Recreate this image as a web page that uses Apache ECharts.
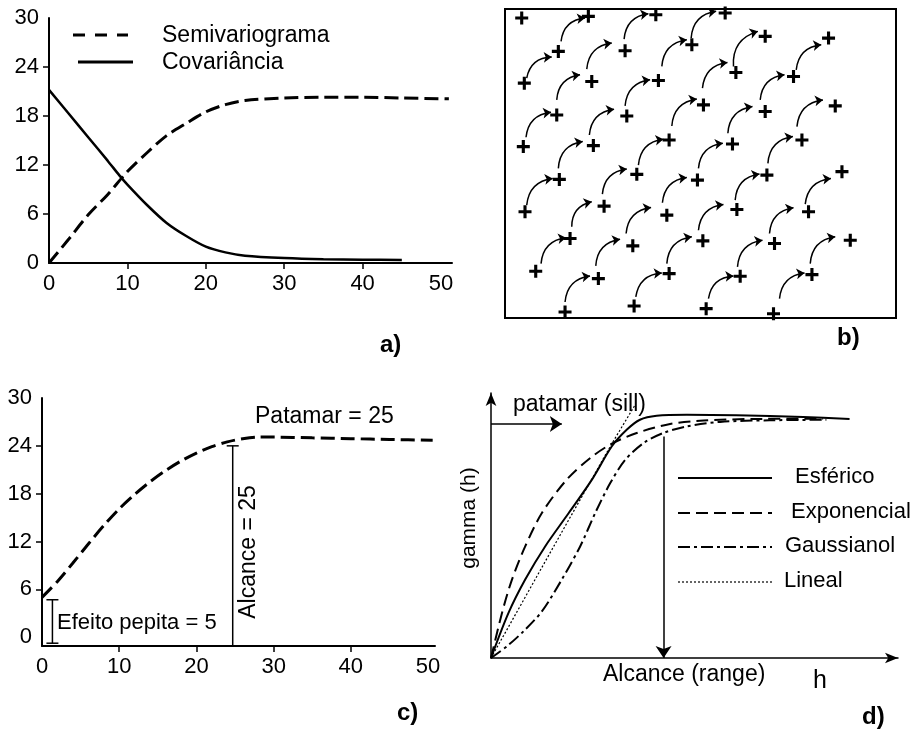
<!DOCTYPE html>
<html>
<head>
<meta charset="utf-8">
<script src="https://cdn.jsdelivr.net/npm/echarts@6/dist/echarts.min.js"></script>
<style>
  html, body { margin: 0; padding: 0; background: #fff; }
  #chart { width: 916px; height: 729px; }
</style>
</head>
<body>
<div id="chart"></div>
<script>
// a) semivariograma e covariancia
var aTicksX = [0, 10, 20, 30, 40, 50];
var aTicksY = [0, 6, 12, 18, 24, 30];
var semiH = [0, 2.5, 5, 7.5, 10, 12.5, 15, 17.5, 20, 22.5, 25, 30, 35, 40, 45, 51];
var semiGamma = [0, 2.9, 5.9, 8.4, 11.2, 13.5, 15.6, 17.1, 18.5, 19.4, 19.9, 20.2, 20.3, 20.3, 20.2, 20.1];
var covH = [0, 2.5, 5, 7.5, 9, 10, 12.5, 15, 17.5, 20, 22.5, 25, 30, 35, 40, 45];
var covC = [21.2, 18.3, 15.4, 12.5, 10.7, 9.6, 7.1, 4.9, 3.3, 2.0, 1.3, 0.9, 0.6, 0.45, 0.4, 0.37];

// b) pontos amostrados (+) e setas
var plusX = [16.7, 83.3, 150.7, 220, 53.3, 120, 186.7, 260, 323.3, 19.3, 86.7, 153.3, 230.7, 288.3,
  51.7, 121.7, 198.3, 260, 330, 18.3, 88.3, 164, 227.3, 296.7, 54.3, 131.7, 192.3, 261.7, 336.7,
  20, 99, 161.7, 231.7, 303.3, 65, 127.7, 197.7, 269.3, 345, 30.7, 93.3, 164, 235, 306.7,
  60, 129, 201, 268.3];
var plusY = [9, 7.3, 5.7, 4, 42.3, 41.7, 35.7, 27.3, 29, 74, 72.3, 71.3, 63.3, 67.3,
  105.7, 106.7, 95.7, 102.3, 96.7, 137.3, 136.3, 130.7, 134.7, 130.7, 170, 165, 170.7, 165.7, 162.3,
  202.3, 196.7, 205.7, 200, 202.3, 229, 236.3, 231.3, 234, 230.7, 261.7, 269, 264, 266.7, 265,
  302.3, 296.3, 299, 304];
var arrowFrom = [[21.7, 69], [56, 32.3], [81.7, 60], [119, 30], [51.7, 90.7], [21, 128], [84.3, 125.7],
  [120, 96.7], [156.7, 57.3], [186, 29], [53.3, 159], [21.7, 195.7], [97.3, 184.7], [133.3, 155.7],
  [166.7, 116.7], [197.3, 79], [228.3, 57.3], [255, 90.7], [291, 60.7], [222.7, 124], [291.7, 117.3],
  [262.7, 154], [193.3, 159], [157.3, 193.3], [230, 190.7], [300, 194.7], [66.7, 217.3], [36, 254],
  [90.7, 256.3], [121, 224], [161.7, 254], [193.3, 220.7], [232.3, 257.3], [264.3, 224], [305, 254],
  [60, 292.3], [130.7, 287.3], [203.3, 289], [274.3, 289]];
var arrowTo = [[46.7, 48], [80, 9], [106.7, 34], [143.3, 4.7], [75, 65.7], [46, 103], [109, 100],
  [145, 70.7], [181.7, 30.7], [211, 2.3], [77.7, 132.3], [47.7, 169], [121.7, 159.7], [158.3, 130],
  [191.7, 89.7], [222.3, 53.3], [252.7, 22.3], [279.3, 65.7], [316, 35.7], [247.3, 97.3], [317.7, 90.7],
  [287.7, 127.3], [217.7, 134], [181.7, 168], [254.3, 164.7], [325.7, 169], [86.7, 192.3], [61, 228.3],
  [115, 229.7], [146, 198], [186.7, 227.3], [218.3, 195], [257.3, 230.7], [288.3, 198.3], [330, 227.3],
  [85, 266.3], [156.7, 263.3], [228.3, 266.3], [299.3, 263.3]];

// c) semivariograma com efeito pepita
var cH = [0, 2, 4, 6, 8, 10, 12, 14, 16, 18, 20, 22, 24, 26, 28, 30, 35, 40, 45, 50.6];
var cGamma = [5.0, 7.0, 9.3, 11.7, 14.0, 16.1, 17.9, 19.5, 20.9, 22.1, 23.1, 23.9, 24.5, 24.9, 25.1, 25.1, 25.0, 24.9, 24.8, 24.7];
var nuggetBar = [1.35, -0.75, 4.7];
var rangeBar = [24.7, -1.1, 24];

// d) modelos teoricos
var esfH = [0, 4.3, 8.4, 13.3, 19.1, 24.8, 29.7, 33.4, 36.6, 40.7, 48.1, 60.3, 76.7, 88.1];
var esfG = [0, 17.0, 29.6, 42.1, 54.7, 67.3, 79.9, 86.2, 89.9, 91.4, 91.8, 91.6, 90.9, 90.2];
var expH = [0, 2.7, 5.15, 8.4, 12.5, 18.6, 24.4, 29.7, 35.8, 44.0, 52.2, 64.4, 81.6];
var expG = [0, 17.0, 29.6, 42.1, 54.7, 67.3, 75.5, 80.9, 84.9, 88.3, 89.6, 90.2, 90.3];
var gauH = [0, 3.9, 8.0, 12.5, 17.4, 21.9, 25.6, 29.3, 33.0, 37.5, 42.3, 48.1, 56.3, 68.5, 82.4];
var gauG = [0, 4.4, 10.1, 17.6, 29.6, 42.1, 54.7, 66.0, 74.8, 81.1, 84.9, 87.4, 89.1, 89.7, 89.9];
var linH = [0, 15, 29.7, 35.4];
var linG = [0, 41, 80.9, 95.5];
var rangeArrow = [[42.4, 83.6], [42.4, 0]];
var sillArrow = [[0, 88.3], [17.4, 88.3]];

function pairs(xs, ys) {
  return xs.map(function (x, i) { return [x, ys[i]]; });
}

var FONT = 'Liberation Sans';
var BLACK = '#000';

function tickAxis(gridIndex, min, max, tickVals, labelVals) {
  return {
    gridIndex: gridIndex,
    type: 'value',
    min: min,
    max: max,
    axisLine: { show: true, onZero: false, lineStyle: { color: BLACK, width: 2 } },
    axisTick: { show: true, inside: false, length: 6, customValues: tickVals, lineStyle: { color: BLACK, width: 1.5 } },
    axisLabel: { customValues: labelVals, color: BLACK, fontSize: 22, fontFamily: FONT, margin: 10 },
    splitLine: { show: false }
  };
}

function hiddenAxis(gridIndex, min, max, inverse) {
  return { gridIndex: gridIndex, type: 'value', min: min, max: max, inverse: !!inverse, show: false };
}

function arrowAxis(gridIndex) {
  return {
    gridIndex: gridIndex, type: 'value', min: 0, max: 100,
    axisLine: { show: true, onZero: false, symbol: ['none', 'arrow'], symbolSize: [8, 13], lineStyle: { color: BLACK, width: 1.5 } },
    axisTick: { show: false }, axisLabel: { show: false }, splitLine: { show: false }
  };
}

function ibar(params, api) {
  var x = api.value(0);
  var lo = api.coord([x, api.value(1)]);
  var hi = api.coord([x, api.value(2)]);
  var w = 6;
  var st = { stroke: BLACK, lineWidth: 1.5 };
  return {
    type: 'group',
    children: [
      { type: 'line', shape: { x1: lo[0], y1: lo[1], x2: hi[0], y2: hi[1] }, style: st },
      { type: 'line', shape: { x1: lo[0] - w, y1: lo[1], x2: lo[0] + w, y2: lo[1] }, style: st },
      { type: 'line', shape: { x1: hi[0] - w, y1: hi[1], x2: hi[0] + w, y2: hi[1] }, style: st }
    ]
  };
}

function txt(x, y, text, size, opts) {
  opts = opts || {};
  return {
    type: 'text', x: x, y: y, rotation: opts.rotation || 0,
    style: {
      text: text, x: 0, y: 0, fill: BLACK,
      font: (opts.bold ? 'bold ' : '') + size + 'px "' + FONT + '"',
      align: opts.align || 'left', verticalAlign: 'middle'
    }
  };
}

function seg(x1, y1, x2, y2, width, dash) {
  return {
    type: 'line', shape: { x1: x1, y1: y1, x2: x2, y2: y2 },
    style: { stroke: BLACK, lineWidth: width, lineDash: dash || null }
  };
}

function curve(xIdx, xs, ys, width, dash) {
  return {
    type: 'line', xAxisIndex: xIdx, yAxisIndex: xIdx,
    data: pairs(xs, ys), smooth: 0.3, showSymbol: false, silent: true,
    lineStyle: { color: BLACK, width: width, type: dash || 'solid' }
  };
}

var chart = echarts.init(document.getElementById('chart'));

var option = {
  animation: false,
  backgroundColor: '#fff',
  textStyle: { fontFamily: FONT },
  grid: [
    { left: 49, top: 18, width: 403, height: 245, outerBoundsMode: 'none' },
    { left: 505, top: 9, width: 391, height: 309, show: true, borderColor: BLACK, borderWidth: 2, backgroundColor: 'transparent', outerBoundsMode: 'none' },
    { left: 42, top: 398, width: 393, height: 248, outerBoundsMode: 'none' },
    { left: 491, top: 393, width: 407, height: 265, outerBoundsMode: 'none' }
  ],
  xAxis: [
    tickAxis(0, 0, 51.4, [10, 20, 30, 40], aTicksX),
    hiddenAxis(1, 0, 390.7),
    tickAxis(2, 0, 50.9, [10, 20, 30, 40], aTicksX),
    arrowAxis(3)
  ],
  yAxis: [
    tickAxis(0, 0, 30, [6, 12, 18, 24], aTicksY),
    hiddenAxis(1, 0, 308.3, true),
    tickAxis(2, -1.1, 30, [6, 12, 18, 24], aTicksY),
    arrowAxis(3)
  ],
  series: [
    // a)
    curve(0, semiH, semiGamma, 3, [14, 6]),
    curve(0, covH, covC, 2.5),
    // b)
    {
      type: 'scatter', xAxisIndex: 1, yAxisIndex: 1, silent: true,
      symbol: 'path://M3.8,0h2.4v3.8h3.8v2.4h-3.8v3.8h-2.4v-3.8h-3.8v-2.4h3.8z',
      symbolSize: 13, itemStyle: { color: BLACK, opacity: 1 },
      data: pairs(plusX, plusY)
    },
    {
      type: 'lines', coordinateSystem: 'cartesian2d', xAxisIndex: 1, yAxisIndex: 1, silent: true,
      symbol: ['none', 'arrow'], symbolSize: 8,
      lineStyle: { color: BLACK, width: 1.5, curveness: 0.4, opacity: 1 },
      data: arrowFrom.map(function (p, i) { return { coords: [p, arrowTo[i]] }; })
    },
    // c)
    curve(2, cH, cGamma, 3, [14, 6]),
    {
      type: 'custom', xAxisIndex: 2, yAxisIndex: 2, silent: true,
      renderItem: ibar, data: [nuggetBar, rangeBar]
    },
    // d)
    curve(3, esfH, esfG, 2),
    curve(3, expH, expG, 2, [12, 6]),
    curve(3, gauH, gauG, 2, [12, 4, 3, 4]),
    {
      type: 'line', xAxisIndex: 3, yAxisIndex: 3, data: pairs(linH, linG),
      showSymbol: false, silent: true,
      lineStyle: { color: BLACK, width: 1.2, type: [2, 2] }
    },
    {
      type: 'lines', coordinateSystem: 'cartesian2d', xAxisIndex: 3, yAxisIndex: 3, silent: true,
      symbol: ['none', 'arrow'], symbolSize: [8, 12],
      lineStyle: { color: BLACK, width: 1.5, opacity: 1 },
      data: [{ coords: rangeArrow }, { coords: sillArrow }]
    }
  ],
  graphic: [
    // a) legenda
    seg(73, 35, 128, 35, 3, [12, 10]),
    seg(78, 62, 133, 62, 3),
    txt(162, 36, 'Semivariograma', 23),
    txt(162, 63, 'Covariância', 23),
    txt(380, 345, 'a)', 24, { bold: true }),
    // b)
    txt(837, 338, 'b)', 24, { bold: true }),
    // c)
    txt(255, 417, 'Patamar = 25', 23),
    txt(57, 623, 'Efeito pepita = 5', 22),
    txt(249, 552, 'Alcance = 25', 23, { rotation: Math.PI / 2, align: 'center' }),
    txt(397, 713, 'c)', 24, { bold: true }),
    // d)
    txt(513, 405, 'patamar (sill)', 23),
    txt(603, 675, 'Alcance (range)', 23),
    txt(813, 681, 'h', 25),
    txt(469, 518, 'gamma (h)', 21, { rotation: Math.PI / 2, align: 'center' }),
    seg(678, 478, 772, 478, 2),
    seg(678, 513, 772, 513, 2, [12, 6]),
    seg(678, 547, 772, 547, 2, [12, 4, 3, 4]),
    seg(678, 582, 772, 582, 1.2, [2, 2]),
    txt(795, 477, 'Esférico', 22),
    txt(791, 512, 'Exponencial', 22),
    txt(785, 546, 'Gaussianol', 22),
    txt(784, 581, 'Lineal', 22),
    txt(862, 717, 'd)', 24, { bold: true })
  ]
};

chart.setOption(option);
</script>
</body>
</html>
